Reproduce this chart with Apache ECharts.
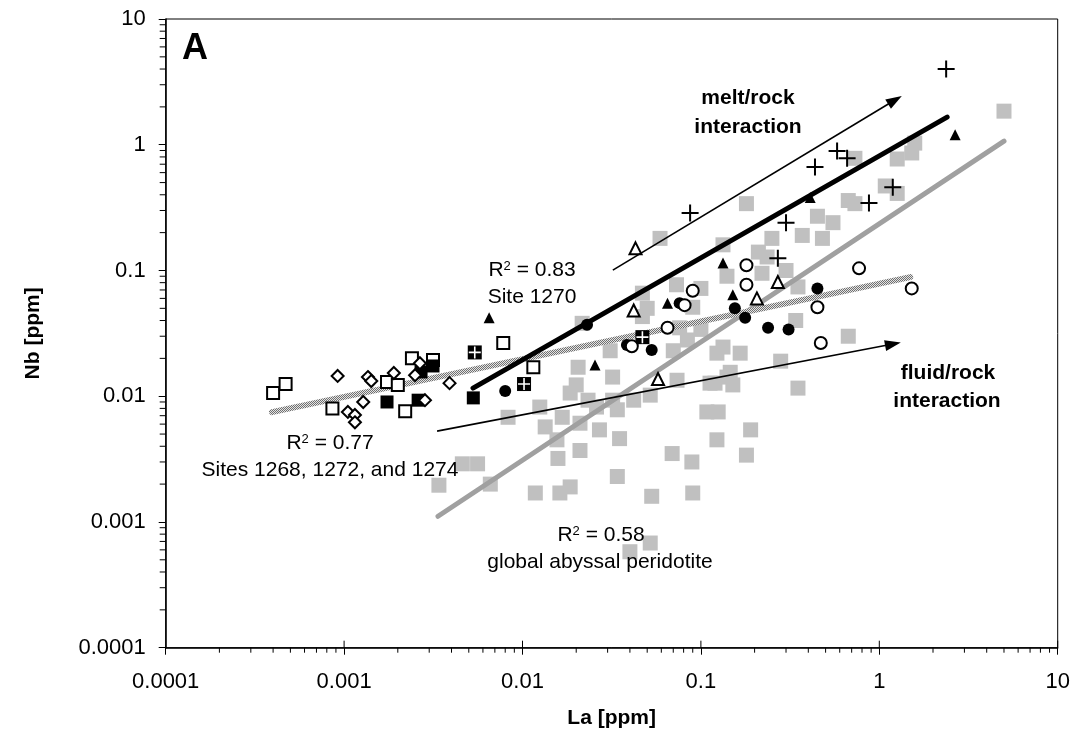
<!DOCTYPE html>
<html><head><meta charset="utf-8">
<script src="https://cdn.jsdelivr.net/npm/echarts@6/dist/echarts.min.js"></script>
<style>html,body{margin:0;padding:0;background:#fff}#c{width:1074px;height:747px}</style>
</head><body><div id="c"></div>
<script>
// ---------- data (La ppm, Nb ppm) ----------
const tickLabels = ['0.0001', '0.001', '0.01', '0.1', '1', '10'];

const globalAbyssal = [
 [5.0,1.85],[1.58,1.03],[1.52,0.86],[1.26,0.77],[0.73,0.78],[1.08,0.47],[1.26,0.41],[0.73,0.34],[0.67,0.36],[0.18,0.34],
 [0.45,0.27],[0.55,0.24],[0.25,0.18],[0.37,0.19],[0.48,0.18],[0.059,0.18],[0.133,0.16],[0.21,0.14],[0.235,0.128],[0.14,0.09],
 [0.30,0.10],[0.073,0.077],[0.10,0.072],[0.047,0.066],[0.35,0.074],[0.05,0.05],[0.09,0.051],[0.0216,0.038],[0.047,0.043],[0.076,0.035],
 [0.10,0.034],[0.34,0.040],[0.67,0.030],[0.031,0.023],[0.07,0.023],[0.084,0.028],[0.123,0.022],[0.166,0.022],[0.133,0.0246],[0.0205,0.017],
 [0.032,0.0142],[0.020,0.0123],[0.0735,0.0134],[0.1125,0.0127],[0.14,0.0142],[0.151,0.0123],[0.28,0.019],[0.0185,0.0106],[0.0233,0.0093],[0.032,0.0093],
 [0.042,0.0093],[0.052,0.0102],[0.35,0.0116],[0.12,0.0127],[0.0125,0.0082],[0.0083,0.0068],[0.0167,0.0068],[0.026,0.0082],[0.034,0.0078],[0.108,0.0075],
 [0.125,0.0075],[0.0134,0.0057],[0.021,0.0061],[0.027,0.0054],[0.035,0.0046],[0.19,0.0054],[0.123,0.0045],[0.0156,0.0045],[0.021,0.0037],[0.0158,0.0032],
 [0.069,0.0035],[0.089,0.0030],[0.18,0.0034],[0.034,0.0023],[0.0046,0.0029],[0.0056,0.0029],[0.0034,0.00196],[0.0066,0.0020],[0.0118,0.0017],[0.0162,0.0017],
 [0.0185,0.0019],[0.053,0.0016],[0.09,0.0017],[0.040,0.00058],[0.052,0.00068],[0.146,0.0155],[0.22,0.095]
];
const openSquares = [[0.0004,0.0106],[0.00047,0.0125],[0.00086,0.0080],[0.0024,0.020],[0.00315,0.0194],[0.00174,0.0130],[0.0020,0.0123],[0.0022,0.0076],[0.0078,0.0265],[0.0115,0.017]];
const filledSquares = [[0.00315,0.0174],[0.00174,0.0090],[0.0026,0.0093],[0.0053,0.0097],[0.0027,0.0156]];
const openDiamonds = [[0.00092,0.0145],[0.00136,0.0142],[0.00142,0.0132],[0.0019,0.0153],[0.00266,0.0183],[0.0025,0.0147],[0.00128,0.0090],[0.00105,0.0075],[0.00115,0.0071],[0.00115,0.0062],[0.00284,0.0093],[0.0039,0.0127]];
const crossSquares = [[0.0054,0.0223],[0.0102,0.0125],[0.047,0.0295]];
const filledTriangles = [[0.0065,0.042],[0.0255,0.0177],[0.065,0.055],[0.133,0.1145],[0.151,0.064],[0.41,0.38],[2.66,1.2]];
const openTriangles = [[0.043,0.15],[0.042,0.048],[0.0575,0.0137],[0.206,0.060],[0.27,0.081]];
const filledCircles = [[0.0080,0.0110],[0.076,0.055],[0.0385,0.0255],[0.053,0.0233],[0.155,0.050],[0.177,0.042],[0.238,0.035],[0.31,0.034],[0.45,0.072],[0.023,0.037]];
const openCircles = [[0.09,0.069],[0.18,0.11],[0.18,0.077],[0.065,0.035],[0.041,0.025],[0.081,0.053],[0.45,0.051],[0.77,0.104],[1.52,0.072],[0.47,0.0265]];
const plusPoints = [[2.37,4.0],[1.19,0.46],[0.875,0.344],[0.087,0.286],[0.436,0.665],[0.58,0.89],[0.66,0.78],[0.30,0.24],[0.27,0.125]];

const fitSite1270 = [[0.00528,0.0116],[2.40,1.66]];
const fitGlobal = [[0.00336,0.00111],[5.0,1.07]];
const fitSites1268 = [[0.000394,0.00747],[1.49,0.0886]];
const meltArrow = [[0.0321,0.1007],[1.224,2.268]];
const fluidArrow = [[0.00332,0.00528],[1.193,0.026]];

// axis decoration: decades and in-between minor ticks
const decades = [0.0001, 0.001, 0.01, 0.1, 1, 10];
const minorTicks = [];
for (let d = 0; d < decades.length - 1; d++) for (let m = 2; m <= 9; m++) minorTicks.push(+(decades[d] * m).toPrecision(3));

// ---------- chart ----------
const FONT = '"Liberation Sans", Arial, sans-serif';
const chart = echarts.init(document.getElementById('c'), null, {renderer: 'canvas'});

// hatched pattern for the sites 1268/1272/1274 fit line
const pc = document.createElement('canvas');
pc.width = 2; pc.height = 2;
const pctx = pc.getContext('2d');
pctx.fillStyle = '#e4e4e4'; pctx.fillRect(0, 0, 2, 2);
pctx.fillStyle = '#707070'; pctx.fillRect(0, 0, 1, 1); pctx.fillRect(1, 1, 1, 1);

function labelFmt(v) { return tickLabels[Math.round(Math.log10(v)) + 4]; }

function tickSeries(data, dir) {
  return {
    type: 'custom', silent: true, clip: false, z: 5, data: data,
    renderItem: function (params, api) {
      const p = api.coord([api.value(0), api.value(1)]);
      let s;
      if (dir === 'down') s = {x1: p[0], y1: p[1], x2: p[0], y2: p[1] + 5};
      else if (dir === 'up') s = {x1: p[0], y1: p[1], x2: p[0], y2: p[1] - 7};
      else s = {x1: p[0] - 6, y1: p[1], x2: p[0], y2: p[1]};
      return {type: 'line', shape: s, style: {stroke: '#000', lineWidth: 1}};
    }
  };
}

function scatter(data, symbol, size, fill, border, bw, z) {
  return {
    type: 'scatter', data: data, symbol: symbol, symbolSize: size, z: z || 3, silent: true,
    itemStyle: {color: fill, borderColor: border, borderWidth: bw, opacity: 1}
  };
}

function fitLine(data, color, width, z) {
  return {
    type: 'line', data: data, symbol: 'none', silent: true, z: z, animation: false,
    lineStyle: {color: color, width: width, cap: 'round'}
  };
}

function arrow(data) {
  return {
    type: 'line', data: [], silent: true, z: 2,
    markLine: {
      silent: true, animation: false, symbol: ['none', 'triangle'], symbolSize: [11, 16],
      label: {show: false},
      lineStyle: {color: '#000', width: 1.6, type: 'solid'},
      data: [[{coord: data[0]}, {coord: data[1]}]]
    }
  };
}

const plusPath = 'path://M0,5 L10,5 M5,0 L5,10';

const option = {
  animation: false,
  backgroundColor: '#fff',
  grid: {left: 165.7, right: 16.3, top: 19, bottom: 99.3, show: true, borderColor: '#000', borderWidth: 1, backgroundColor: 'transparent'},
  xAxis: {
    type: 'log', logBase: 10, min: 0.0001, max: 10,
    name: 'La [ppm]', nameLocation: 'middle', nameGap: 60,
    nameTextStyle: {fontFamily: FONT, fontSize: 21, fontWeight: 'bold', color: '#000'},
    axisLine: {lineStyle: {color: '#000', width: 1.5}},
    axisTick: {length: 7, lineStyle: {color: '#000', width: 1}},
    axisLabel: {formatter: labelFmt, fontFamily: FONT, fontSize: 22, color: '#000', margin: 23},
    splitLine: {show: false}, minorTick: {show: false}
  },
  yAxis: {
    type: 'log', logBase: 10, min: 0.0001, max: 10,
    name: 'Nb [ppm]', nameLocation: 'middle', nameGap: 122,
    nameTextStyle: {fontFamily: FONT, fontSize: 21, fontWeight: 'bold', color: '#000'},
    axisLine: {lineStyle: {color: '#000', width: 1.5}},
    axisTick: {length: 7, lineStyle: {color: '#000', width: 1}},
    axisLabel: {formatter: labelFmt, fontFamily: FONT, fontSize: 22, color: '#000', margin: 20},
    splitLine: {show: false}
  },
  series: [
    scatter(globalAbyssal, 'rect', 15, '#c0c0c0', '#c0c0c0', 0, 1),
    fitLine(fitGlobal, '#a0a0a0', 5, 2),
    fitLine(fitSites1268, {image: pc, repeat: 'repeat'}, 6, 2),
    arrow(meltArrow),
    arrow(fluidArrow),
    fitLine(fitSite1270, '#000', 5, 2),
    scatter(openSquares, 'rect', 12, '#fff', '#000', 2, 3),
    scatter(filledSquares, 'rect', 13, '#000', '#000', 0, 3),
    scatter(openDiamonds, 'diamond', 12, '#fff', '#000', 2, 3),
    scatter(crossSquares, 'rect', 14, '#000', '#000', 0, 3),
    scatter(crossSquares, plusPath, 12, 'none', '#fff', 1.6, 3),
    scatter(filledTriangles, 'triangle', 11, '#000', '#000', 0, 3),
    scatter(openTriangles, 'triangle', 12, '#fff', '#000', 2, 3),
    scatter(filledCircles, 'circle', 12, '#000', '#000', 0, 3),
    scatter(openCircles, 'circle', 12, '#fff', '#000', 2, 3),
    scatter(plusPoints, plusPath, 17, 'none', '#000', 2, 3),
    tickSeries(minorTicks.map(v => [v, 0.0001]), 'down'),
    tickSeries(decades.slice(1).map(v => [v, 0.0001]), 'up'),
    tickSeries(minorTicks.map(v => [0.0001, v]), 'left')
  ],
  graphic: []
};

function txt(x, y, text, size, bold) {
  return {type: 'text', x: x, y: y, silent: true, z: 10,
    style: {text: text, fontFamily: FONT, fontSize: size, fontWeight: bold ? 'bold' : 'normal', fill: '#000', align: 'center', verticalAlign: 'middle'}};
}
function r2(x, y, val) {
  return {type: 'text', x: x, y: y, silent: true, z: 10,
    style: {text: '{n|R}{s|2}{n| = ' + val + '}', fill: '#000', align: 'center', verticalAlign: 'middle',
      rich: {n: {fontFamily: FONT, fontSize: 21, fill: '#000', verticalAlign: 'bottom'},
             s: {fontFamily: FONT, fontSize: 13, fill: '#000', verticalAlign: 'top'}}}};
}
option.graphic = [
  txt(195, 49, 'A', 36, true),
  r2(532, 270, '0.83'), txt(532, 297, 'Site 1270', 21, false),
  r2(330, 443, '0.77'), txt(330, 470, 'Sites 1268, 1272, and 1274', 21, false),
  r2(601, 535, '0.58'), txt(600, 562, 'global abyssal peridotite', 21, false),
  txt(748, 98, 'melt/rock', 21, true), txt(748, 127, 'interaction', 21, true),
  txt(948, 373, 'fluid/rock', 21, true), txt(947, 401, 'interaction', 21, true)
];

chart.setOption(option);
</script></body></html>
